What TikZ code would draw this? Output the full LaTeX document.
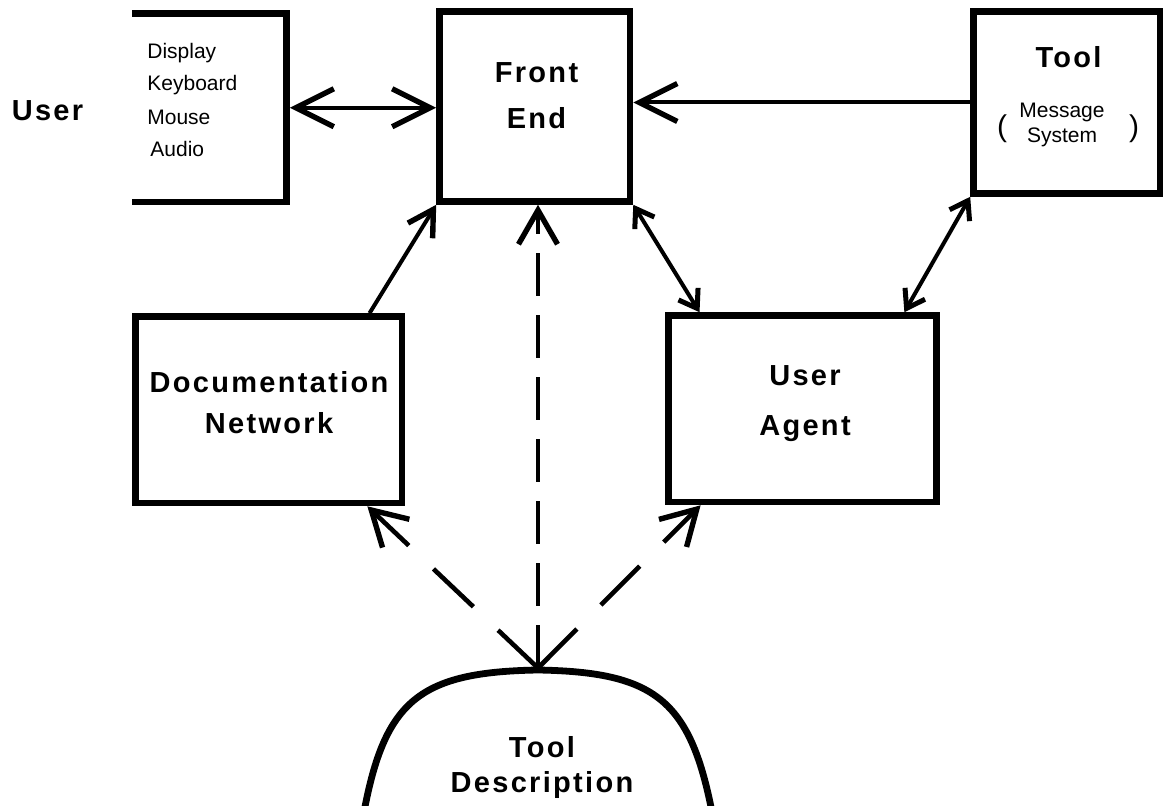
\documentclass[tikz,border=0pt]{standalone}
\usepackage{fontspec}
\setmainfont{Liberation Sans}
\newfontfamily\widefont{Liberation Sans}[LetterSpace=8]
\usetikzlibrary{arrows.meta,calc}

\begin{document}
\begin{tikzpicture}[x=0.5pt,y=-0.5pt,
	block/.style={draw, line width=3.3pt, inner sep=0pt},
	blocktext/.style={font=\widefont\bfseries\fontsize{14.5}{#1}\selectfont, align=center, inner sep=0pt},
	blocktext/.default=23,
	itemtext/.style={font=\fontsize{10.5}{#1}\selectfont, inner sep=0pt},
	itemtext/.default=16.5,
	link/.style={line width=2pt},
	dashlink/.style={line width=2.3pt, dash pattern=on 27.5pt off 17pt},
	vdashlink/.style={line width=2.3pt, dash pattern=on 21.5pt off 9.5pt},
	bigtip/.style={>={Straight Barb[length=19pt,width=19pt,line width=2.7pt]}},
	midtip/.style={>={Straight Barb[length=12.5pt,width=14.5pt,line width=2.7pt]}},
	smalltip/.style={>={Straight Barb[length=8.5pt,width=11.5pt,line width=2.5pt]}},
	dashtip/.style={>={Straight Barb[length=17pt,width=19.5pt,line width=2.7pt]}}]
	\useasboundingbox (0,0) rectangle (1163,806);

	% boxes
	\node[block, draw=none, outer sep=0pt, minimum width=77.25pt, minimum height=94.25pt] (io) at (209.25,107.75) {};
	\draw[line width=3.3pt] (io.north west) -- (io.north east) -- (io.south east) -- (io.south west);
	\node[block, minimum width=95.25pt, minimum height=95pt] (fe) at (534.75,106.5) {};
	\node[block, minimum width=93.25pt, minimum height=91pt] (tool) at (1066.75,102.5) {};
	\node[block, minimum width=133.25pt, minimum height=93.25pt] (dn) at (268.75,409.75) {};
	\node[block, minimum width=134pt, minimum height=93.25pt] (ua) at (802.5,408.75) {};
	\draw[line width=3.4pt] (364,812) .. controls (385,700) and (420,672) .. (538,670)
		.. controls (655,672) and (690,700) .. (712,812);
	\coordinate (td) at (538,668);

	% texts
	\node[blocktext] (user) at (47.5,111) {User};
	\node[itemtext, align=left, anchor=west] (devices) at (147,100) {Display\\Keyboard\\Mouse\\\hspace*{1.5pt}Audio};
	\node[blocktext] (fetext) at (536.5,96) {Front\\End};
	\node[blocktext] (tooltext) at (1068.5,57.5) {Tool};
	\node[itemtext=12.5, align=center] (msgtext) at (1062,124.5) {Message\\System};
	\node[font=\fontsize{15}{18}\selectfont, inner sep=0pt] (lpar) at (1002,129) {(};
	\node[font=\fontsize{15}{18}\selectfont, inner sep=0pt] (rpar) at (1134,129) {)};
	\node[blocktext=20.5] (dntext) at (269,402.5) {Documentation\\Network};
	\node[blocktext=25] (uatext) at (805,404) {User\\Agent};
	\node[blocktext=17.5] (tdtext) at (542,768) {Tool\\Description};

	% links
	\draw[link, bigtip, <->] ([xshift=1.65pt]io.east) -- (io.east -| fe.west);
	\draw[link, bigtip, ->] (tool.west) -- (tool.west -| fe.east);
	\draw[link, midtip, ->] ($(dn.north west)!0.869!(dn.north east)$) -- (fe.south west);
	\draw[link, smalltip, <->] (fe.south east) -- ($(ua.north west)!0.125!(ua.north east)$);
	\draw[link, smalltip, <->] (tool.south west) -- ($(ua.north west)!0.871!(ua.north east)$);

	% tool description links
	\draw[vdashlink, dashtip, ->] (td) -- (td |- fe.south);
	\draw[dashlink, dashtip, ->] (td) -- ($(dn.south west)!0.861!(dn.south east)$);
	\draw[dashlink, dashtip, ->] (td) -- ($(ua.south west)!0.129!(ua.south east)$);
\end{tikzpicture}
\end{document}
